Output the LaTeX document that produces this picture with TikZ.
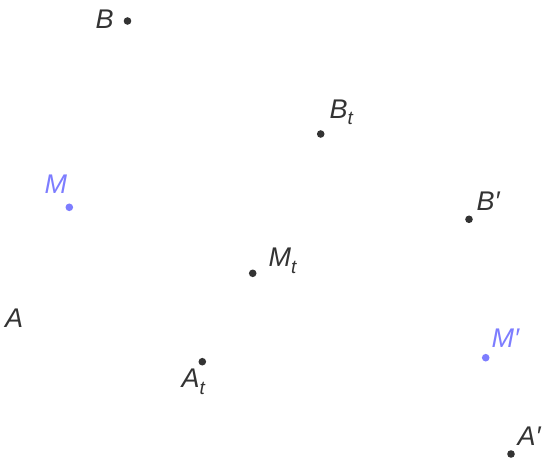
\documentclass[tikz,border=0pt]{standalone}
\usepackage{fontspec}
\setmainfont{Liberation Sans}
\definecolor{ptgray}{HTML}{333333}
\definecolor{ptblue}{HTML}{7D7DFF}
\newcommand{\sbt}{\raisebox{-6.5pt}{\fontsize{19}{19}\selectfont t}}
\begin{document}
\begin{tikzpicture}[x=1pt,y=-1pt,
  pt/.style={circle,fill=ptgray,draw=none,minimum size=7.6pt,inner sep=0pt},
  ptb/.style={pt,fill=ptblue},
  lbl/.style={inner sep=0pt,anchor=base west,text=ptgray,font=\fontsize{27}{27}\selectfont\itshape},
  lblb/.style={lbl,text=ptblue}]
\useasboundingbox (0,0) rectangle (548,462);
\node[pt] (B) at (127.5,21) {};
\node[lbl] (BL) at (95.5,29) {B};
\node[pt] (Bt) at (320.7,134) {};
\node[lbl] (BtL) at (329.5,118.5) {B\sbt};
\node[ptb] (M) at (69.3,207.3) {};
\node[lblb] (ML) at (44.5,194) {M};
\node[pt] (Bp) at (469,219.3) {};
\node[lbl] (BpL) at (476.5,210.5) {B′};
\node[pt] (Mt) at (252.7,273.3) {};
\node[lbl] (MtL) at (268.5,266.5) {M\sbt};
\node[lbl] (AL) at (5,327.5) {A};
\node[pt] (At) at (202.3,361.7) {};
\node[lbl] (AtL) at (181.5,387.5) {A\sbt};
\node[ptb] (Mp) at (485.7,357.7) {};
\node[lblb] (MpL) at (491.5,347.5) {M′};
\node[pt] (Ap) at (511,454) {};
\node[lbl] (ApL) at (517.5,445.5) {A′};
\end{tikzpicture}
\end{document}
